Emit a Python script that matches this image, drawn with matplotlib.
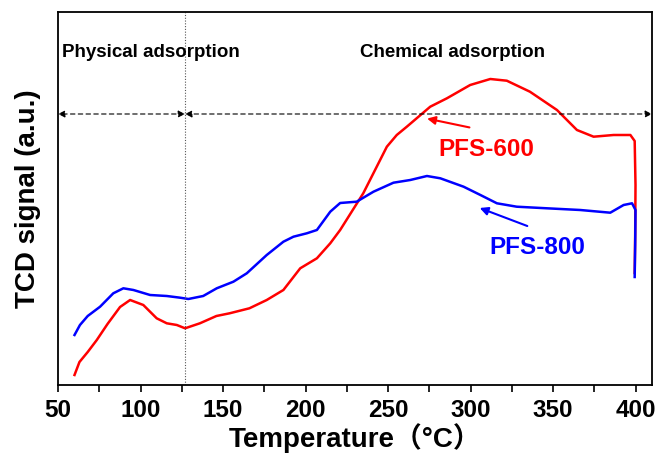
import numpy as np
import matplotlib.pyplot as plt
from matplotlib.ticker import MultipleLocator

plt.rcParams['font.family'] = ['Liberation Sans', 'DejaVu Sans']

# PFS-600 (red), temperature in degC and signal in arbitrary units
t600 = [60, 63, 68, 73.5, 80, 87.6, 93.7, 101.7, 109.8, 115.9, 122, 127, 136, 146,
        154, 166, 176.5, 186.6, 196.8, 206.9, 215, 221, 235, 249.3, 255.3, 261.4,
        275.6, 285.7, 299.8, 312, 322, 336, 352.4, 364.5, 374.6, 386.7, 396.9,
        399.5, 400, 399.8, 399.5]
s600 = [10, 23, 33, 45, 61, 78, 85, 80, 66.7, 61.7, 60, 56.7, 61.7, 69, 71.7,
        76.7, 85, 95, 116.7, 126.7, 141.7, 155, 191.7, 238.3, 250, 258.3, 278.3,
        286.7, 300, 306, 304.3, 293.3, 275, 255, 248.3, 250, 250, 244, 200, 150,
        112]

# PFS-800 (blue)
t800 = [60, 63.3, 68, 75.5, 83.5, 89.6, 95.7, 105.8, 115.9, 124, 129, 138, 146.2,
        156.3, 164.4, 176.5, 186.6, 192.7, 200.8, 206.9, 215, 221, 231, 241.2,
        253.3, 263.5, 273.6, 281.7, 295.8, 306, 316, 328, 346.3, 366.5, 384.7,
        392.8, 397.9, 400, 399.8, 399.5]
s800 = [50, 60, 69, 78.3, 91.7, 96.7, 95, 90, 89, 87.3, 86, 89, 96.7, 103.3,
        111.7, 130, 143.3, 148.3, 151.7, 155, 173.3, 182, 183.3, 193.3, 202.3,
        205, 209, 206.7, 198.3, 190, 181.7, 178.3, 176.7, 175, 172.3, 180, 181.7,
        175, 140, 108]

boundary_t = 127
level = 271

fig = plt.figure(figsize=(6.57, 4.58), dpi=100)
ax = fig.add_axes([0.0883, 0.1594, 0.9041, 0.8144])

ax.plot(t600, s600, color='#ff0000', lw=1.8)
ax.plot(t800, s800, color='#0000ff', lw=1.8)

ax.axvline(boundary_t, color='#555555', lw=0.8, ls=(0, (1, 1.5)))
ax.annotate('', xy=(50, level), xytext=(boundary_t, level),
            arrowprops=dict(arrowstyle='<|-|>', ls=(0, (4, 3)), lw=0.8,
                            color='black', mutation_scale=10, shrinkA=0, shrinkB=0))
ax.annotate('', xy=(410, level), xytext=(boundary_t, level),
            arrowprops=dict(arrowstyle='<|-|>', ls=(0, (4, 3)), lw=0.8,
                            color='black', mutation_scale=10, shrinkA=0, shrinkB=0))

ax.text(52.4, 328, 'Physical adsorption', fontsize=13.5, fontweight='bold')
ax.text(233, 328, 'Chemical adsorption', fontsize=13.5, fontweight='bold')

ax.annotate('', xy=(272, 267), xytext=(301, 257),
            arrowprops=dict(arrowstyle='-|>', color='#ff0000', lw=1.5, mutation_scale=12))
ax.text(309.5, 235, 'PFS-600', color='#ff0000', fontsize=17.5, fontweight='bold',
        ha='center', va='center')
ax.annotate('', xy=(304, 178), xytext=(336, 158),
            arrowprops=dict(arrowstyle='-|>', color='#0000ff', lw=1.5, mutation_scale=12))
ax.text(340.6, 137, 'PFS-800', color='#0000ff', fontsize=17.5, fontweight='bold',
        ha='center', va='center')

ax.set_xlim(50, 410)
ax.set_ylim(0, 373)
ax.xaxis.set_major_locator(MultipleLocator(50))
ax.xaxis.set_minor_locator(MultipleLocator(25))
ax.tick_params(axis='x', which='both', direction='out', length=5, width=1.2,
               labelsize=17.5, pad=5)
ax.set_yticks([])
for lab in ax.get_xticklabels():
    lab.set_fontweight('bold')
for sp in ax.spines.values():
    sp.set_linewidth(1.3)

ax.set_xlabel('Temperature（°C）', fontsize=20, fontweight='bold',
              family=['Liberation Sans', 'Noto Sans CJK SC'], labelpad=1)
ax.set_ylabel('TCD signal (a.u.)', fontsize=20, fontweight='bold', labelpad=12)

fig.savefig('out.png', dpi=100)
